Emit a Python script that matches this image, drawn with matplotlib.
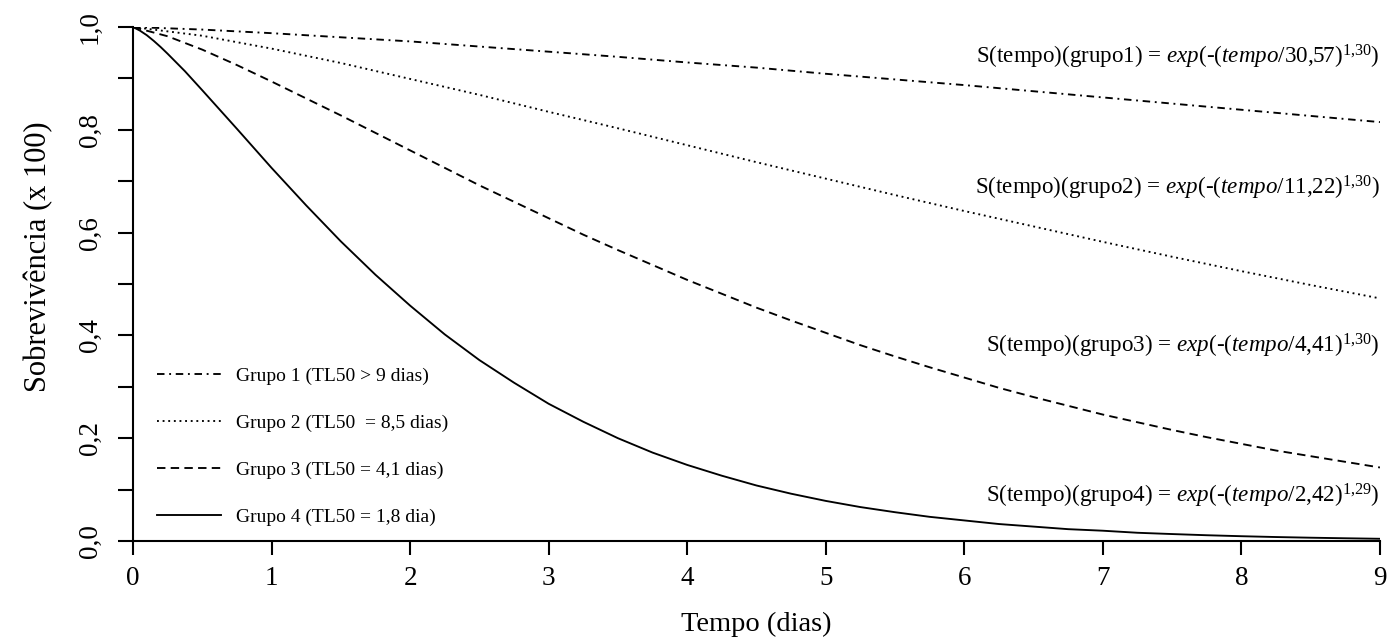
import matplotlib
matplotlib.use('Agg')
import matplotlib.pyplot as plt
from matplotlib.lines import Line2D

plt.rcParams['font.family'] = 'Liberation Serif'
plt.rcParams['mathtext.fontset'] = 'custom'
plt.rcParams['mathtext.rm'] = 'Liberation Serif'
plt.rcParams['mathtext.it'] = 'Liberation Serif:italic'

# Survival values
t_half = [0, 0.5, 1, 1.5, 2, 2.5, 3, 3.5, 4, 4.5, 5, 5.5, 6, 6.5, 7, 7.5, 8, 8.5, 9]
grupo1 = [1.0, 0.995, 0.988, 0.980, 0.972, 0.962, 0.952, 0.942, 0.931, 0.921,
          0.909, 0.898, 0.887, 0.875, 0.863, 0.851, 0.839, 0.827, 0.815]
grupo2 = [1.0, 0.983, 0.958, 0.930, 0.899, 0.868, 0.835, 0.803, 0.770, 0.737,
          0.705, 0.673, 0.642, 0.612, 0.582, 0.553, 0.525, 0.498, 0.472]

t_quarter = [0, 0.25, 0.5, 0.75, 1, 1.25, 1.5, 1.75, 2, 2.25, 2.5, 2.75, 3, 3.25,
             3.5, 3.75, 4, 4.25, 4.5, 4.75, 5, 5.25, 5.5, 5.75, 6, 6.25, 6.5,
             6.75, 7, 7.25, 7.5, 7.75, 8, 8.25, 8.5, 8.75, 9]
grupo3 = [1.0, 0.982, 0.956, 0.926, 0.894, 0.861, 0.828, 0.794, 0.760, 0.726,
          0.692, 0.660, 0.628, 0.596, 0.566, 0.537, 0.508, 0.481, 0.454, 0.429,
          0.405, 0.381, 0.359, 0.338, 0.318, 0.298, 0.280, 0.263, 0.246, 0.231,
          0.216, 0.202, 0.189, 0.176, 0.165, 0.154, 0.143]

t_g4 = [0, 0.05, 0.1, 0.15, 0.2, 0.25, 0.375, 0.5, 0.75, 1, 1.25, 1.5, 1.75, 2,
        2.25, 2.5, 2.75, 3, 3.25, 3.5, 3.75, 4, 4.25, 4.5, 4.75, 5, 5.25, 5.5,
        5.75, 6, 6.25, 6.5, 6.75, 7, 7.25, 7.5, 7.75, 8, 8.25, 8.5, 8.75, 9]
grupo4 = [1.0, 0.993, 0.984, 0.973, 0.961, 0.948, 0.914, 0.877, 0.802, 0.726,
          0.653, 0.583, 0.518, 0.458, 0.402, 0.352, 0.308, 0.267, 0.232, 0.200,
          0.172, 0.148, 0.127, 0.108, 0.092, 0.078, 0.066, 0.056, 0.047, 0.040,
          0.033, 0.028, 0.023, 0.020, 0.016, 0.0135, 0.0112, 0.0093, 0.0077,
          0.0064, 0.0053, 0.0043]

labels = ['Grupo 1 (TL50 > 9 dias)', 'Grupo 2 (TL50  = 8,5 dias)',
          'Grupo 3 (TL50 = 4,1 dias)', 'Grupo 4 (TL50 = 1,8 dia)']
escala = ['30,57', '11,22', '4,41', '2,42']
forma = ['1,30', '1,30', '1,30', '1,29']
text_y = [0.942, 0.687, 0.379, 0.088]

LW = 1.35
styles = [(0, (4, 2.5, 1, 2.5)), (0, (1, 2)), (0, (4.5, 2.8)), '-']

fig = plt.figure(figsize=(13.88, 6.4), dpi=100)
ax = fig.add_axes([0.0958, 0.1547, 0.8984, 0.8031])

ax.plot(t_half, grupo1, color='black', lw=LW, linestyle=styles[0])
ax.plot(t_half, grupo2, color='black', lw=LW, linestyle=styles[1])
ax.plot(t_quarter, grupo3, color='black', lw=LW, linestyle=styles[2])
ax.plot(t_g4, grupo4, color='black', lw=LW, linestyle=styles[3])

for i in range(4):
    s = ('S(tempo)(grupo%d) = $\\mathit{exp}$(-($\\mathit{tempo}$/%s)$^{\\mathrm{%s}}$)'
         % (i + 1, escala[i], forma[i].replace(',', '{,}')))
    ax.text(9, text_y[i], s, ha='right', va='center', fontsize=16.6)

handles = [Line2D([], [], color='black', lw=LW, linestyle=st) for st in styles]
ax.legend(handles, labels, loc='lower left', bbox_to_anchor=(0.019, 0.03),
          frameon=False, fontsize=14, handlelength=3.3, handletextpad=0.8,
          labelspacing=1.5, borderpad=0, borderaxespad=0)

ax.set_xlim(0, 9)
ax.set_ylim(0, 1)
ax.set_xticks(range(10))
ax.set_yticks([0, 0.2, 0.4, 0.6, 0.8, 1.0])
ax.set_yticklabels(['0,0', '0,2', '0,4', '0,6', '0,8', '1,0'], rotation=90, va='center')
ax.set_yticks([0.1, 0.3, 0.5, 0.7, 0.9], minor=True)
ax.tick_params(axis='both', which='both', direction='out', width=1.5, labelsize=19.5)
ax.tick_params(axis='x', length=10, pad=8)
ax.tick_params(axis='y', which='both', length=11, pad=11)
for side in ['top', 'right']:
    ax.spines[side].set_visible(False)
for side in ['left', 'bottom']:
    ax.spines[side].set_linewidth(1.5)

ax.set_xlabel('Tempo (dias)', fontsize=20.5, labelpad=15)
ax.set_ylabel('Sobrevivência (x 100)', fontsize=22)
ax.yaxis.set_label_coords(-0.064, 0.553)

plt.savefig('out.png', dpi=100)
